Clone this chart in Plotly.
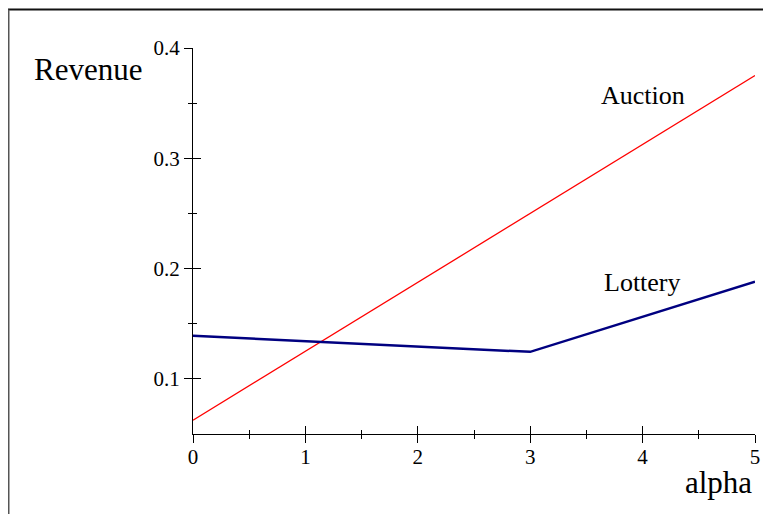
import plotly.graph_objects as go

alpha = [0, 1, 2, 3, 4, 5]
auction = [0.0625, 0.125, 0.1875, 0.25, 0.3125, 0.375]
lottery_alpha = [0, 3, 5]
lottery = [0.139, 0.1245, 0.188]

x_ticks = [0, 1, 2, 3, 4, 5]
x_minor = [0.5, 1.5, 2.5, 3.5, 4.5]
y_ticks = [0.1, 0.2, 0.3, 0.4]
y_tick_text = ["0.1", "0.2", "0.3", "0.4"]
y_minor = [0.15, 0.25, 0.35]

FONT = "Liberation Serif, Times New Roman, serif"

W, H = 763, 506
ML, MR, MT, MB = 185, 16, 40, 80
plot_w = W - ML - MR
plot_h = H - MT - MB

fig = go.Figure()
fig.add_trace(go.Scatter(x=alpha, y=auction, mode="lines",
                         line=dict(color="#ff0000", width=1.3), cliponaxis=False))
fig.add_trace(go.Scatter(x=lottery_alpha, y=lottery, mode="lines",
                         line=dict(color="#000080", width=2.5), cliponaxis=False))
# invisible trace on overlay axes so they render (ticks on the inner side)
fig.add_trace(go.Scatter(x=[0], y=[0.1], xaxis="x2", yaxis="y2", mode="markers",
                         marker=dict(opacity=0), hoverinfo="skip"))

axis_common = dict(showgrid=False, zeroline=False, showline=True, linecolor="black",
                   linewidth=1, tickcolor="black", tickwidth=1)

fig.update_layout(
    width=W, height=H,
    margin=dict(l=ML, r=MR, t=MT, b=MB),
    paper_bgcolor="white", plot_bgcolor="white",
    showlegend=False,
    xaxis=dict(range=[0, 5], tickvals=x_ticks, ticks="outside", ticklen=8,
               minor=dict(tickvals=x_minor, ticks="outside", ticklen=4,
                          tickcolor="black", tickwidth=1),
               tickfont=dict(family=FONT, size=21, color="black"),
               ticklabelstandoff=-4, **axis_common),
    yaxis=dict(range=[0.05, 0.4], tickvals=y_ticks, ticktext=y_tick_text, ticks="outside",
               ticklen=8,
               minor=dict(tickvals=y_minor, ticks="outside", ticklen=4,
                          tickcolor="black", tickwidth=1),
               tickfont=dict(family=FONT, size=21, color="black"),
               ticklabelstandoff=0, **axis_common),
    xaxis2=dict(range=[0, 5], overlaying="x", anchor="y2", side="bottom",
                tickvals=x_ticks, ticks="inside", ticklen=8, showticklabels=False,
                tickcolor="black", tickwidth=1,
                minor=dict(tickvals=x_minor, ticks="inside", ticklen=4,
                           tickcolor="black", tickwidth=1),
                showgrid=False, zeroline=False, showline=False),
    yaxis2=dict(range=[0.05, 0.4], overlaying="y", anchor="x2", side="left",
                tickvals=y_ticks, ticks="inside", ticklen=8, showticklabels=False,
                tickcolor="black", tickwidth=1,
                minor=dict(tickvals=y_minor, ticks="inside", ticklen=4,
                           tickcolor="black", tickwidth=1),
                showgrid=False, zeroline=False, showline=False),
)

ann_font = dict(family=FONT, color="black")
fig.add_annotation(x=(80 - ML) / plot_w, y=(H - MB - 62) / plot_h, xref="paper", yref="paper",
                   xanchor="center", yanchor="middle",
                   text="Revenue", showarrow=False, font=dict(size=31, **ann_font))
fig.add_annotation(x=(710 - ML) / plot_w, y=(H - MB - 474) / plot_h, xref="paper", yref="paper",
                   xanchor="center", yanchor="middle",
                   text="alpha", showarrow=False, font=dict(size=31, **ann_font))
fig.add_annotation(x=4.0, y=0.357, xref="x", yref="y", text="Auction", showarrow=False,
                   xanchor="center", yanchor="middle", font=dict(size=26, **ann_font))
fig.add_annotation(x=3.995, y=0.187, xref="x", yref="y", text="Lottery", showarrow=False,
                   xanchor="center", yanchor="middle", font=dict(size=26, **ann_font))

# outer frame lines (top and left)
fig.add_shape(type="line", xref="paper", yref="paper",
              x0=(0 - ML) / plot_w, x1=(W - ML) / plot_w,
              y0=(H - MB - 1.5) / plot_h, y1=(H - MB - 1.5) / plot_h,
              line=dict(color="#111111", width=2))
fig.add_shape(type="line", xref="paper", yref="paper",
              x0=(0.5 - ML) / plot_w, x1=(0.5 - ML) / plot_w,
              y0=(H - MB - 1.5) / plot_h, y1=(H - MB - H) / plot_h,
              line=dict(color="#555555", width=2))

fig.write_html("out.html")
